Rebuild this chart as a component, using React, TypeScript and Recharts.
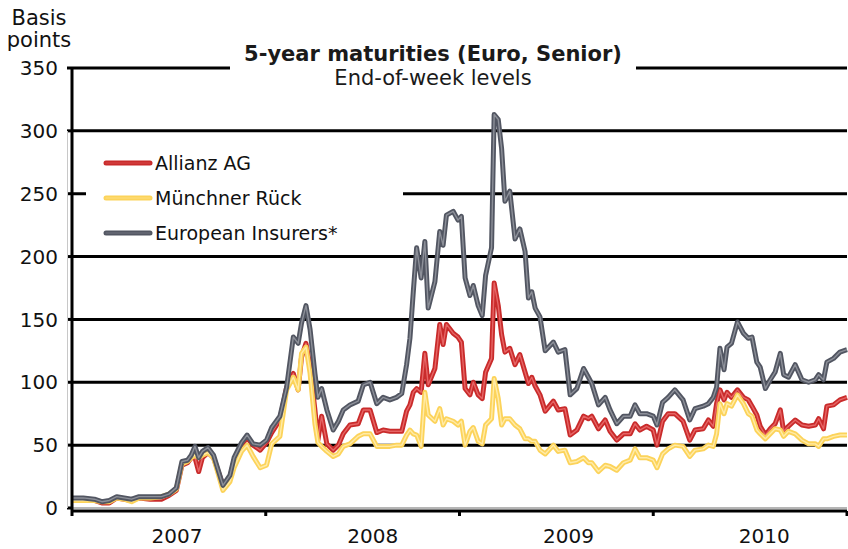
import React from 'react';
import { LineChart, Line, XAxis, YAxis, CartesianGrid, ReferenceLine } from 'recharts';

// week index since first week of January 2007
const weeks = [0,3,6,8,10,12,14,16,18,21,24,26,28,29.5,31,32,33,34,35,36.5,38,40.5,42.4,43.5,45.5,47,48.6,50.5,52.2,53.6,55.8,57.6,59.4,60.7,61.6,62.8,63.9,65.2,66,67,68.4,70.1,71.5,72.8,74.6,76.8,78.2,80,81.8,83.5,85.3,87.1,88.5,89.8,90.7,91.6,92.5,93.7,94.7,95.6,97.4,98.7,99.6,100.5,102.3,103.6,104.5,105.5,106.8,107.7,109,110.1,111,112.6,113.3,114.4,115.3,116.2,117.5,118.9,120.2,121.6,122.5,123.4,124.3,125.6,127,129.2,130.5,132.3,133.7,135.5,137.3,138.6,139.5,141.3,143.1,144.4,146.2,148,149.8,151.1,152.4,154.2,156,157,158.5,160,161.8,164,165.8,167.2,169.4,170.8,172.1,173,173.9,175,175.8,177,178.6,180.2,181.5,182.5,183.8,184.7,186.1,187.4,188.7,190.1,191,192.3,194.1,195.9,197.7,199.5,200.4,201.7,202.6,204.4,206.1,208];

const european = [8,8,7,5,6,9,8,7,9,9,9,11,16,37,38,42,49,40,45,48,42,18,26,40,52,58,51,50,54,64,73,96,136,131,147,161,142,107,88,95,78,62,69,78,82,85,98,100,83,88,86,88,91,114,135,172,207,183,212,159,180,220,209,233,236,229,232,183,169,177,161,153,185,207,313,309,286,244,252,214,222,204,167,172,159,152,125,132,124,126,90,95,111,104,99,82,88,78,67,73,73,82,75,75,73,66,84,88,94,86,70,79,81,83,88,96,127,110,128,131,148,139,135,136,116,112,95,102,108,123,106,104,114,102,100,102,106,102,116,119,124,126];

const allianz = [7,7,6,4,4,8,7,6,8,7,7,10,14,34,36,40,40,29,40,44,40,18,24,38,50,56,50,46,52,60,70,96,107,94,120,131,112,78,54,73,51,46,50,59,66,67,78,78,60,62,61,61,61,77,82,92,95,92,123,98,111,146,130,146,139,136,132,95,90,100,90,87,108,119,179,161,138,124,127,114,122,108,99,104,97,90,77,85,78,79,58,62,73,71,73,63,70,61,54,59,59,67,62,65,62,50,69,75,75,69,54,62,63,70,65,83,94,86,92,88,94,88,86,81,74,65,58,63,67,78,61,65,70,66,65,66,71,63,81,82,86,88];

const munich = [6,6,6,5,5,8,7,5,8,8,9,11,15,35,37,40,42,40,42,44,40,14,21,32,45,50,41,32,34,51,57,94,104,94,123,128,107,67,52,49,45,41,43,49,51,57,59,59,49,49,49,50,50,58,62,59,58,49,92,74,69,79,66,71,69,66,69,50,61,64,53,51,66,71,103,87,66,71,71,66,63,55,55,53,53,46,43,50,45,46,36,37,40,36,36,29,34,33,30,36,38,47,40,40,38,32,43,47,50,49,41,46,47,50,49,59,83,75,83,81,90,83,75,73,62,59,55,59,63,62,57,61,59,54,51,51,49,55,55,57,58,58];

const yearLabels = ['2007', '2008', '2009', '2010'];
const yearTicks = [0, 52, 104, 156, 208];
const yTicks = [0, 50, 100, 150, 200, 250, 300, 350];
const gridValues = [50, 100, 150, 200, 250, 300, 350];

const data = weeks.map((w, i) => ({
  w,
  allianz: allianz[i],
  munich: munich[i],
  european: european[i],
}));

const series = [
  { key: 'allianz', name: 'Allianz AG', outer: '#c92b2b', inner: '#e66565' },
  { key: 'munich', name: 'Münchner Rück', outer: '#fcd35a', inner: '#ffeba8' },
  { key: 'european', name: 'European Insurers*', outer: '#525662', inner: '#8d9099' },
];

const FONT = '"DejaVu Sans", Verdana, sans-serif';

const XTick = (props: any) => {
  const { x, y, payload } = props;
  const i = yearTicks.indexOf(payload.value);
  if (i < 0 || i >= yearLabels.length) return <g />;
  return (
    <text x={x + 105 + i * 2} y={y + 25} textAnchor="middle" fontSize={20} fontFamily={FONT} fill="#111">
      {yearLabels[i]}
    </text>
  );
};

export default function App() {
  return (
    <div style={{ position: 'absolute', left: 0, top: 0, width: 848, height: 549, background: '#fff', fontFamily: FONT }}>
      <LineChart width={848} height={549} data={data} margin={{ top: 68, right: 1, bottom: 0, left: 0 }}>
        <CartesianGrid vertical={false} horizontalValues={gridValues} stroke="#000" strokeWidth={3} />
        <ReferenceLine y={0} stroke="#b5b5b5" strokeWidth={2} />
        <XAxis
          dataKey="w"
          type="number"
          domain={[0, 208]}
          ticks={yearTicks}
          height={38}
          axisLine={{ stroke: '#000', strokeWidth: 3 }}
          tickLine={{ stroke: '#000', strokeWidth: 3 }}
          tickSize={5}
          tick={<XTick />}
          interval={0}
        />
        <YAxis
          type="number"
          domain={[-2.4, 350]}
          ticks={yTicks}
          width={72}
          interval={0}
          axisLine={{ stroke: '#000', strokeWidth: 3 }}
          tickLine={{ stroke: '#000', strokeWidth: 3 }}
          tickSize={5}
          tickMargin={9}
          tick={{ fontSize: 20, fontFamily: FONT, fill: '#111' }}
        />
        {series.map((s) => [
          <Line key={s.key + 'o'} type="linear" dataKey={s.key} stroke={s.outer} strokeWidth={5} dot={false} activeDot={false} isAnimationActive={false} strokeLinejoin="round" />,
          <Line key={s.key + 'i'} type="linear" dataKey={s.key} stroke={s.inner} strokeWidth={1.4} dot={false} activeDot={false} isAnimationActive={false} strokeLinejoin="round" />,
        ])}
      </LineChart>

      {/* thin grey frame line left of axis */}
      <div style={{ position: 'absolute', left: 67, top: 131, width: 1, height: 377, background: '#c8c8c8' }} />

      {/* axis unit */}
      <div style={{ position: 'absolute', left: 0, top: 7, width: 78, textAlign: 'center', fontSize: 21, lineHeight: '22px', color: '#111' }}>
        Basis<br />points
      </div>

      {/* title */}
      <div style={{ position: 'absolute', left: 230, top: 40, width: 406, height: 50, background: '#fff' }}>
        <div style={{ position: 'absolute', left: 0, top: 2, width: 406, textAlign: 'center', fontSize: 21, fontWeight: 'bold', lineHeight: '24px', color: '#1a1a1a' }}>
          5-year maturities (Euro, Senior)
        </div>
        <div style={{ position: 'absolute', left: 0, top: 26, width: 406, textAlign: 'center', fontSize: 21, lineHeight: '24px', color: '#1a1a1a' }}>
          End-of-week levels
        </div>
      </div>

      {/* legend */}
      <div style={{ position: 'absolute', left: 86, top: 134, width: 317, height: 121, background: '#fff' }}>
        {series.map((s, i) => (
          <div key={s.key} style={{ position: 'absolute', left: 0, top: 29 + i * 35 - 12, height: 24, width: 317 }}>
            <svg width={50} height={24} style={{ position: 'absolute', left: 17, top: 0 }}>
              <line x1={3} y1={12} x2={47} y2={12} stroke={s.outer} strokeWidth={5} strokeLinecap="round" />
              <line x1={3} y1={12} x2={47} y2={12} stroke={s.inner} strokeWidth={1.2} strokeLinecap="round" opacity={0.5} />
            </svg>
            <div style={{ position: 'absolute', left: 69, top: 0, fontSize: 19, lineHeight: '24px', color: '#111', whiteSpace: 'nowrap' }}>
              {s.name}
            </div>
          </div>
        ))}
      </div>
    </div>
  );
}
